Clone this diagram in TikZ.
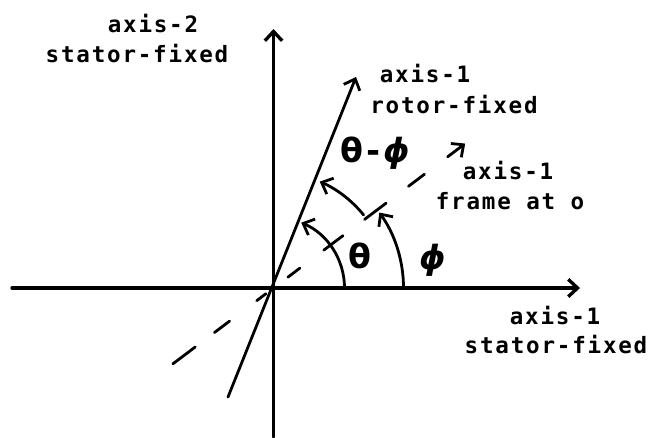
\documentclass[tikz,border=0pt]{standalone}
\usepackage{fontspec}
\setmonofont[LetterSpace=8]{DejaVu Sans Mono}
\newfontfamily\greekfont{DejaVu Sans}
\usetikzlibrary{arrows.meta}
\begin{document}
\begin{tikzpicture}[x=0.75pt,y=0.75pt,
  ax/.style={line width=2.5pt, line cap=round},
  ln/.style={line width=2.1pt, line cap=round},
  tip/.style={-{Straight Barb[length=7pt,width=13pt]}},
  lbl/.style={font=\ttfamily\bfseries\fontsize{16.9}{20}\selectfont, inner sep=0pt},
  gr/.style={font=\greekfont\bfseries\fontsize{25}{30}\selectfont, inner sep=0pt}]
\useasboundingbox (0,-437) rectangle (655,0);
\coordinate (O) at (273.5,-288);
\coordinate (hL) at (12,-288);
\coordinate (hR) at (580,-288);
\coordinate (vB) at (273.5,-437);
\coordinate (vT) at (273.5,-29);
\coordinate (rB) at (228,-397);
\coordinate (rT) at (356,-77);
% axes
\draw[ax,tip] (hL) -- (hR);
\draw[ax,tip] (vB) -- (vT);
% rotor-fixed axis
\draw[ln,tip] (rB) -- (rT);
% frame axis (dashed)
\foreach \a/\b in {-126/-98,-74/-55,-21/-9.5,18/33,63/87,114/141,169/189}
  \draw[ln,shift={(O)}] (37:\a) -- (37:\b);
\draw[ln,tip,shift={(O)}] (37:218) -- (37:240);
% angle arcs
\draw[ln,tip,shift={(O)}] (0:71) arc[start angle=0,end angle=67,radius=71];
\draw[ln,tip,shift={(O)}] (0:130) arc[start angle=0,end angle=35.5,radius=130];
\draw[ln,tip,shift={(O)}] (39:116) arc[start angle=39,end angle=66.5,radius=116];
% labels
\node[lbl] (a2) at (153,-23) {axis-2};
\node[lbl] (s2) at (137,-53) {stator-fixed};
\node[lbl] (a1r) at (425,-73) {axis-1};
\node[lbl] (rf) at (454,-104) {rotor-fixed};
\node[lbl] (a1f) at (508,-170) {axis-1};
\node[lbl] (fo) at (510,-201) {frame at o};
\node[lbl] (a1s) at (555,-315) {axis-1};
\node[lbl] (s1) at (556,-344) {stator-fixed};
\node[gr] (th) at (360,-256) {θ};
\node[gr] (ph) at (433,-260) {\itshape ϕ};
\node[gr] (thph) at (375,-153) {θ{\ttfamily\bfseries -}{\itshape ϕ}};
\end{tikzpicture}
\end{document}
